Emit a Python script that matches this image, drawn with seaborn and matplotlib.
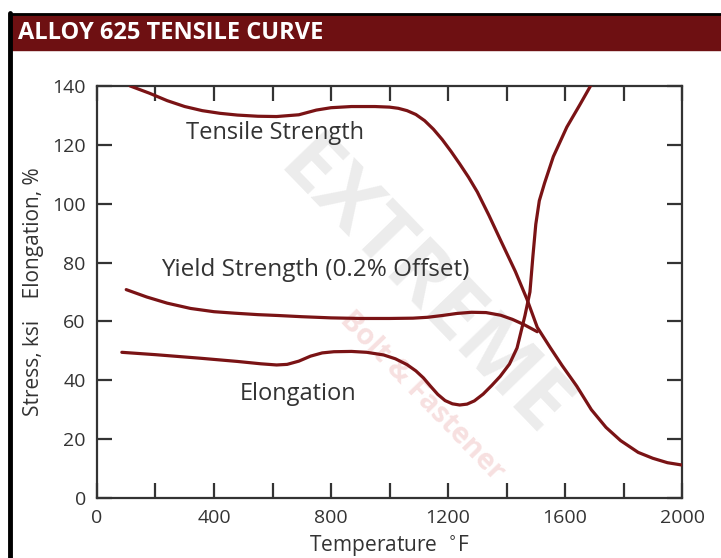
import numpy as np
import pandas as pd
import seaborn as sns
import matplotlib.pyplot as plt

# values (temperature in F)
tensile_temp = [113, 180, 240, 300, 360, 420, 480, 550, 614, 690, 750, 800, 870, 950, 1000,
                1030, 1060, 1090, 1120, 1150, 1180, 1210, 1240, 1270, 1300, 1340, 1380, 1430,
                1470, 1505, 1550, 1590, 1640, 1690, 1740, 1790, 1850, 1900, 1950, 2000]
tensile = [140, 137.5, 135, 133, 131.6, 130.7, 130.1, 129.7, 129.6, 130.2, 131.8, 132.6, 133,
           133, 132.8, 132.4, 131.6, 130.3, 128.2, 125.3, 121.8, 117.8, 113.5, 109, 104,
           96, 87.5, 77, 67.5, 58, 51, 45, 38, 30, 24, 19.5, 15.5, 13.5, 12, 11.2]

yield_temp = [100, 170, 240, 320, 400, 470, 550, 620, 700, 800, 900, 1000, 1080, 1130, 1180,
              1230, 1280, 1330, 1380, 1420, 1460, 1505]
yield_str = [70.8, 68.3, 66.2, 64.4, 63.3, 62.8, 62.3, 62, 61.6, 61.2, 61, 61, 61.1, 61.4, 62,
             62.7, 63.1, 63, 62.1, 60.7, 58.9, 56.5]

elong_temp = [85, 200, 352, 480, 560, 614, 650, 690, 730, 770, 810, 870, 922, 980, 1020, 1060,
              1090, 1116, 1140, 1165, 1190, 1215, 1240, 1265, 1290, 1320, 1350, 1378, 1410,
              1436, 1463, 1480, 1490, 1500, 1512, 1530, 1560, 1606, 1650, 1690]
elong = [49.5, 48.7, 47.5, 46.4, 45.6, 45.2, 45.4, 46.5, 48.2, 49.3, 49.7, 49.8, 49.5, 48.6,
         47.3, 45.3, 43.2, 40.8, 38, 35.2, 33.1, 32, 31.6, 31.9, 33, 35.3, 38.3, 41.3, 45.5,
         51, 62, 70, 82, 93, 101, 107, 116, 126, 133.5, 140.5]

curve_names = ['Tensile Strength', 'Yield Strength (0.2% Offset)', 'Elongation']
x_ticks = list(range(0, 2001, 200))
y_ticks = list(range(0, 141, 20))

sns.set_theme(style='white')
plt.rcParams['font.family'] = ['Open Sans', 'DejaVu Sans']

red = '#7a1315'
txt = '#333333'

fig = plt.figure(figsize=(7.21, 5.58), dpi=100)
ax = fig.add_axes([0.1345, 0.1075, 0.8115, 0.7385])
ax.set_facecolor('none')

# faint watermark, under the curves
ax.text(0.585, 0.48, 'EXTREME', rotation=-46, fontsize=60, fontweight='bold',
        color='#ececec', ha='center', va='center', zorder=0, transform=fig.transFigure)
ax.text(0.585, 0.29, 'Bolt & Fastener', rotation=-46, fontsize=21, fontweight='bold',
        color='#f7e0e0', ha='center', va='center', zorder=0, transform=fig.transFigure)

sns.lineplot(x=tensile_temp, y=tensile, ax=ax, color=red, lw=2.3, sort=False, zorder=3)
sns.lineplot(x=yield_temp, y=yield_str, ax=ax, color=red, lw=2.3, sort=False, zorder=3)
sns.lineplot(x=elong_temp, y=elong, ax=ax, color=red, lw=2.3, sort=False, zorder=3)

ax.set_xlim(0, 2000)
ax.set_ylim(0, 140)
ax.set_xticks(x_ticks)
ax.set_xticklabels([str(t) if t % 400 == 0 else '' for t in x_ticks])
ax.set_yticks(y_ticks)
ax.tick_params(direction='in', length=10.5, width=1.6, color='#333333', labelsize=14,
               labelcolor=txt, top=True, right=True, bottom=True, left=True, pad=8)
for s in ax.spines.values():
    s.set_color('#333333')
    s.set_linewidth(1.6)

ax.text(608, 124, curve_names[0], fontsize=17, color=txt, ha='center', va='center', zorder=4)
ax.text(745, 77.5, curve_names[1], fontsize=17.5, color=txt, ha='center', va='center', zorder=4)
ax.text(687, 35.5, curve_names[2], fontsize=17, color=txt, ha='center', va='center', zorder=4)

ax.set_xlabel(r'Temperature  $^{\circ}$F', fontsize=15, color=txt, labelpad=4)
ax.set_ylabel('Stress, ksi    Elongation, %', fontsize=15, color=txt, labelpad=6)

# title bar and frame
fig.patches.append(plt.Rectangle((12 / 721, 1 - 50 / 558), 1, 36 / 558, transform=fig.transFigure,
                                 color='#6e1012', zorder=1))
fig.lines.append(plt.Line2D([12 / 721, 1], [1 - 14 / 558, 1 - 14 / 558], transform=fig.transFigure,
                            color='black', lw=2))
fig.lines.append(plt.Line2D([10 / 721, 10 / 721], [0, 1 - 13 / 558], transform=fig.transFigure,
                            color='black', lw=3.5))
fig.text(18 / 721, 1 - 33 / 558, 'ALLOY 625 TENSILE CURVE', fontsize=17, fontweight='bold',
         color='white', ha='left', va='center')

plt.savefig('out.png', dpi=100)
